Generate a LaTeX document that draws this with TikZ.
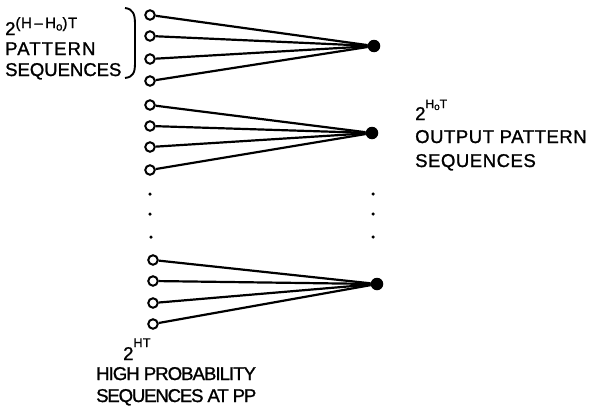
\documentclass[tikz,border=0pt]{standalone}
\usepackage{fontspec}
\setmainfont[FakeBold=1.2]{Liberation Sans}
\begin{document}
\begin{tikzpicture}[x=1pt,y=-1pt,
  inp/.style={circle,draw,line width=2pt,fill=white,minimum size=9.5pt,inner sep=0pt},
  outp/.style={circle,fill=black,minimum size=12.5pt,inner sep=0pt},
  edge/.style={line width=2.2pt},
  vdot/.style={circle,fill=black,minimum size=3.5pt,inner sep=0pt},
  lbl/.style={inner sep=0pt,font=\fontsize{18.5}{22}\selectfont}
]
\useasboundingbox (0,0) rectangle (594,415);
% group 1
\node[inp] (a1) at (150,15) {};
\node[inp] (a2) at (150,36) {};
\node[inp] (a3) at (150,59) {};
\node[inp] (a4) at (150,81) {};
\node[outp] (A) at (374,46) {};
% group 2
\node[inp] (b1) at (150,105) {};
\node[inp] (b2) at (150,126) {};
\node[inp] (b3) at (150,147) {};
\node[inp] (b4) at (150,170) {};
\node[outp] (B) at (372,133) {};
% group 3
\node[inp] (c1) at (153,260) {};
\node[inp] (c2) at (153,281) {};
\node[inp] (c3) at (153,303) {};
\node[inp] (c4) at (153,324) {};
\node[outp] (C) at (377,284) {};
\foreach \g/\G in {a/A,b/B,c/C}{
  \foreach \i in {1,...,4}{
    \draw[edge] (\g\i) -- (\G);
  }
}
% ellipsis dots
\node[vdot] (l1) at (150,194) {};
\node[vdot] (l2) at (150,214) {};
\node[vdot] (l3) at (151,237) {};
\node[vdot] (r1) at (373,194) {};
\node[vdot] (r2) at (373,214) {};
\node[vdot] (r3) at (373,237) {};
% brace
\draw[line width=1.9pt] (125,8) .. controls (133,9) and (135,14) .. (135,24) -- (135,63) .. controls (135,73) and (133,77) .. (125,78);
% labels
\node[lbl,anchor=base west] (t1) at (5,35) {2\raisebox{7pt}{\fontsize{15}{15}\selectfont\addfontfeature{LetterSpace=4}(H\,–\,H\raisebox{-2.5pt}{\fontsize{11.5}{11}\selectfont o})T}};
\node[lbl,anchor=base west] (t2) at (5,55) {\addfontfeature{LetterSpace=6}PATTERN};
\node[lbl,anchor=base west] (t3) at (5,76) {SEQUENCES};
\node[lbl,anchor=base west] (r0) at (415,120) {2\raisebox{12pt}{\fontsize{12}{12}\selectfont H\raisebox{-2pt}{\fontsize{10}{10}\selectfont o}T}};
\node[lbl,anchor=base west] (ra) at (415,143) {\addfontfeature{LetterSpace=3}OUTPUT PATTERN};
\node[lbl,anchor=base west] (rb) at (415,167) {\addfontfeature{LetterSpace=3}SEQUENCES};
\node[lbl,anchor=base west] (b0) at (123,360) {2\raisebox{13pt}{\fontsize{12.5}{12}\selectfont\addfontfeature{LetterSpace=3}HT}};
\node[lbl,anchor=base west] (ba) at (96,380) {\addfontfeature{LetterSpace=-5}HIGH PROBABILITY};
\node[lbl,anchor=base west] (bb) at (96,402) {\addfontfeature{LetterSpace=-6}SEQUENCES AT PP};
\end{tikzpicture}
\end{document}
